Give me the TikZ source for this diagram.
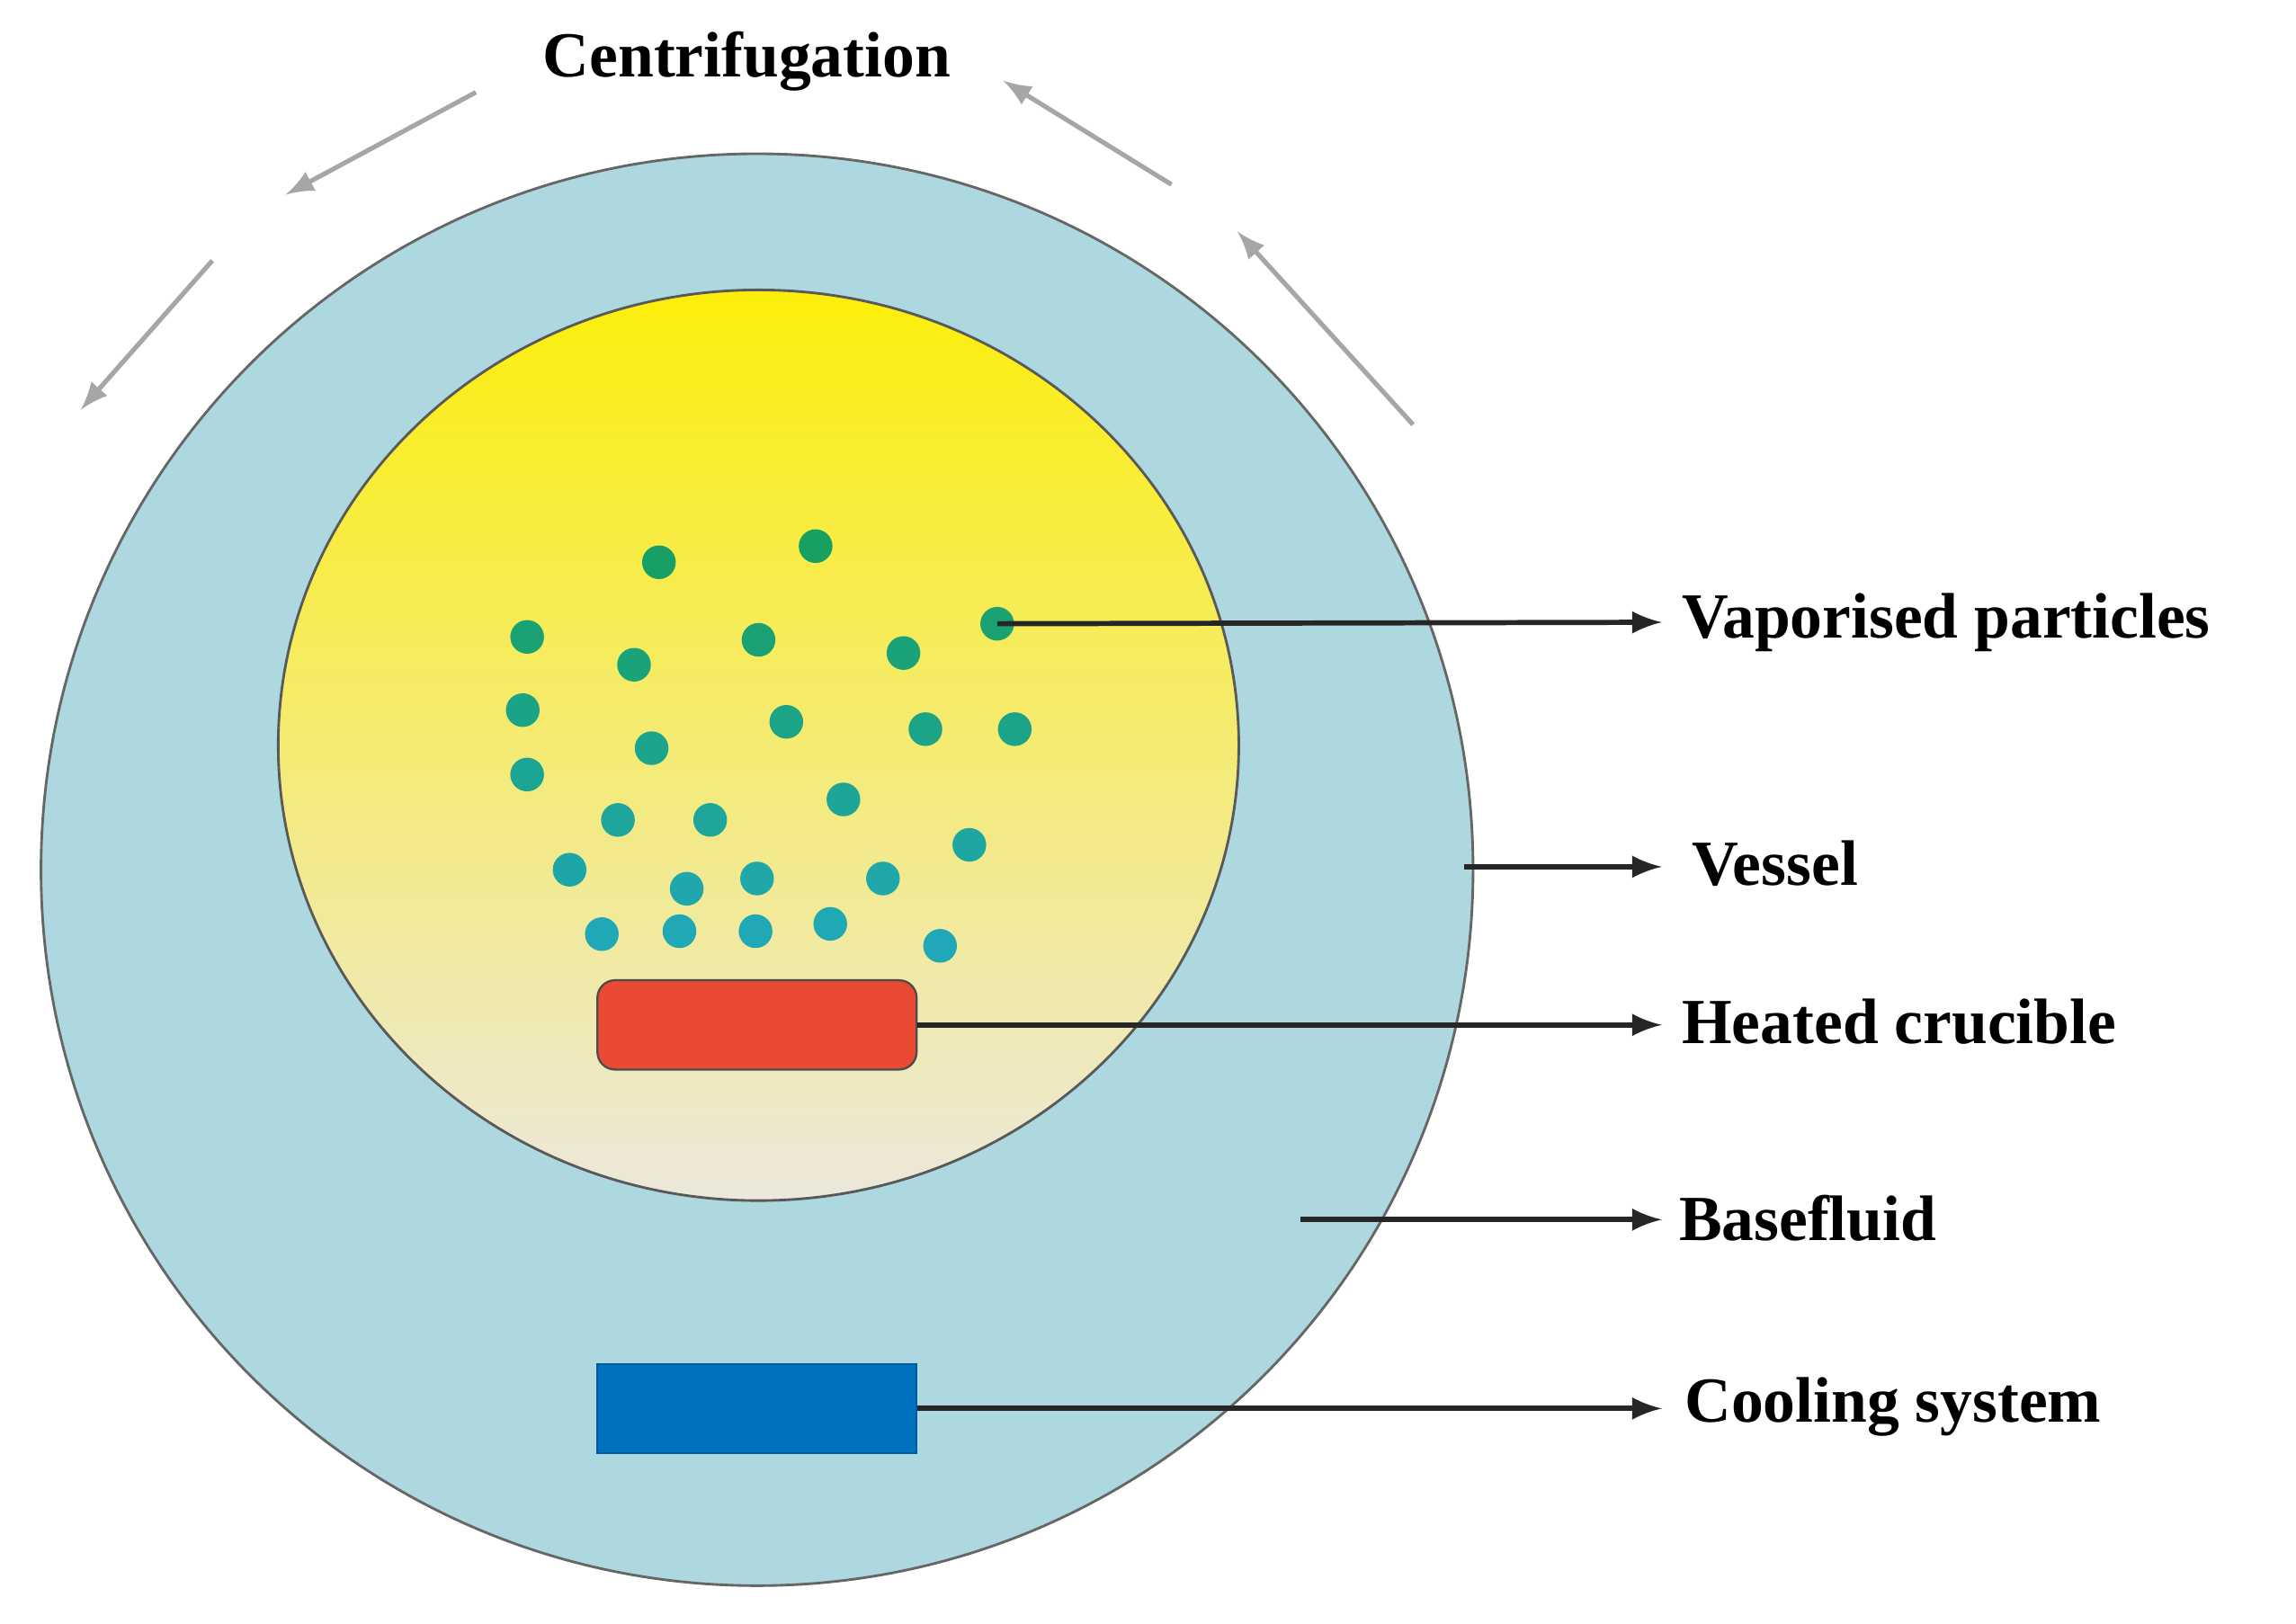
\documentclass[tikz,border=0pt]{standalone}
\usepackage{fontspec}
\setmainfont{Liberation Serif}
\definecolor{fluid}{HTML}{ADD8E0}
\definecolor{ytop}{HTML}{FCEE0A}
\definecolor{ybot}{HTML}{ECE8DC}
\definecolor{dotg}{HTML}{18A060}
\definecolor{dott}{HTML}{20A8B8}
\definecolor{crucible}{HTML}{EA4A33}
\definecolor{cooler}{HTML}{0072C0}
\tikzset{
  lbl/.style={anchor=west,font=\bfseries\fontsize{12.5}{14}\selectfont,inner sep=0pt},
  ptr/.style={-latex,line width=1pt,black!85},
  spin/.style={-latex,line width=0.9pt,gray!70},
  pt/.style={circle,inner sep=0pt,minimum size=2.3mm}
}
\begin{document}
\begin{tikzpicture}[x=0.1mm,y=-0.1mm]
\useasboundingbox[fill=white] (0,0) rectangle (1568,1109);
\node[circle,draw=gray!80!black,line width=0.5pt,fill=fluid,minimum size=97.8mm,inner sep=0pt] (vessel) at (517,594) {};
\shade[top color=ytop,bottom color=ybot,draw=gray!70!black,line width=0.5pt] (518,509) ellipse [x radius=328,y radius=311];
\coordinate (inner) at (518,509);
\node[rounded corners=1.2mm,draw=gray!60!black,line width=0.4pt,fill=crucible,minimum width=21.8mm,minimum height=6.1mm,inner sep=0pt] (cru) at (517,700) {};
\node[draw=cooler!80!black,line width=0.4pt,fill=cooler,minimum width=21.8mm,minimum height=6.1mm,inner sep=0pt] (cool) at (517,962) {};
\foreach \x/\y [count=\i] in {450/384,557/373,360/435,433/454,518/437,617/446,681/426,357/485,445/511,537/493,632/498,693/498,360/529,422/560,485/560,576/546,662/577,389/594,469/607,517/600,603/600,411/638,464/636,516/636,567/631,642/646}{
  \pgfmathtruncatemacro{\t}{(646-\y)/2.73}
  \node[pt,fill=dotg!\t!dott] (d\i) at (\x,\y) {};
}
\node[lbl] (lv) at (1148,425) {Vaporised particles};
\node[lbl] (lves) at (1155,590) {Vessel};
\node[lbl] (lc) at (1148,698) {Heated crucible};
\node[lbl] (lb) at (1146,832) {Basefluid};
\node[lbl] (lco) at (1150,961) {Cooling system};
\coordinate (vs) at (1000,592);
\coordinate (bs) at (888,833);
\draw[ptr] (d7.center) -- (1135,425) coordinate (e1);
\draw[ptr] (vs) -- (1135,592);
\draw[ptr] (cru.east) -- (1135,700);
\draw[ptr] (bs) -- (1135,833);
\draw[ptr] (cool.east) -- (1135,962);
\node[font=\bfseries\fontsize{12.5}{14}\selectfont] (cent) at (510,42) {Centrifugation};
\coordinate (a1) at (325,63); \coordinate (a2) at (195,133);
\coordinate (b1) at (145,178); \coordinate (b2) at (55,280);
\coordinate (c1) at (800,126); \coordinate (c2) at (685,55);
\coordinate (f1) at (965,290); \coordinate (f2) at (845,158);
\draw[spin] (a1) -- (a2);
\draw[spin] (b1) -- (b2);
\draw[spin] (c1) -- (c2);
\draw[spin] (f1) -- (f2);
\end{tikzpicture}
\end{document}
